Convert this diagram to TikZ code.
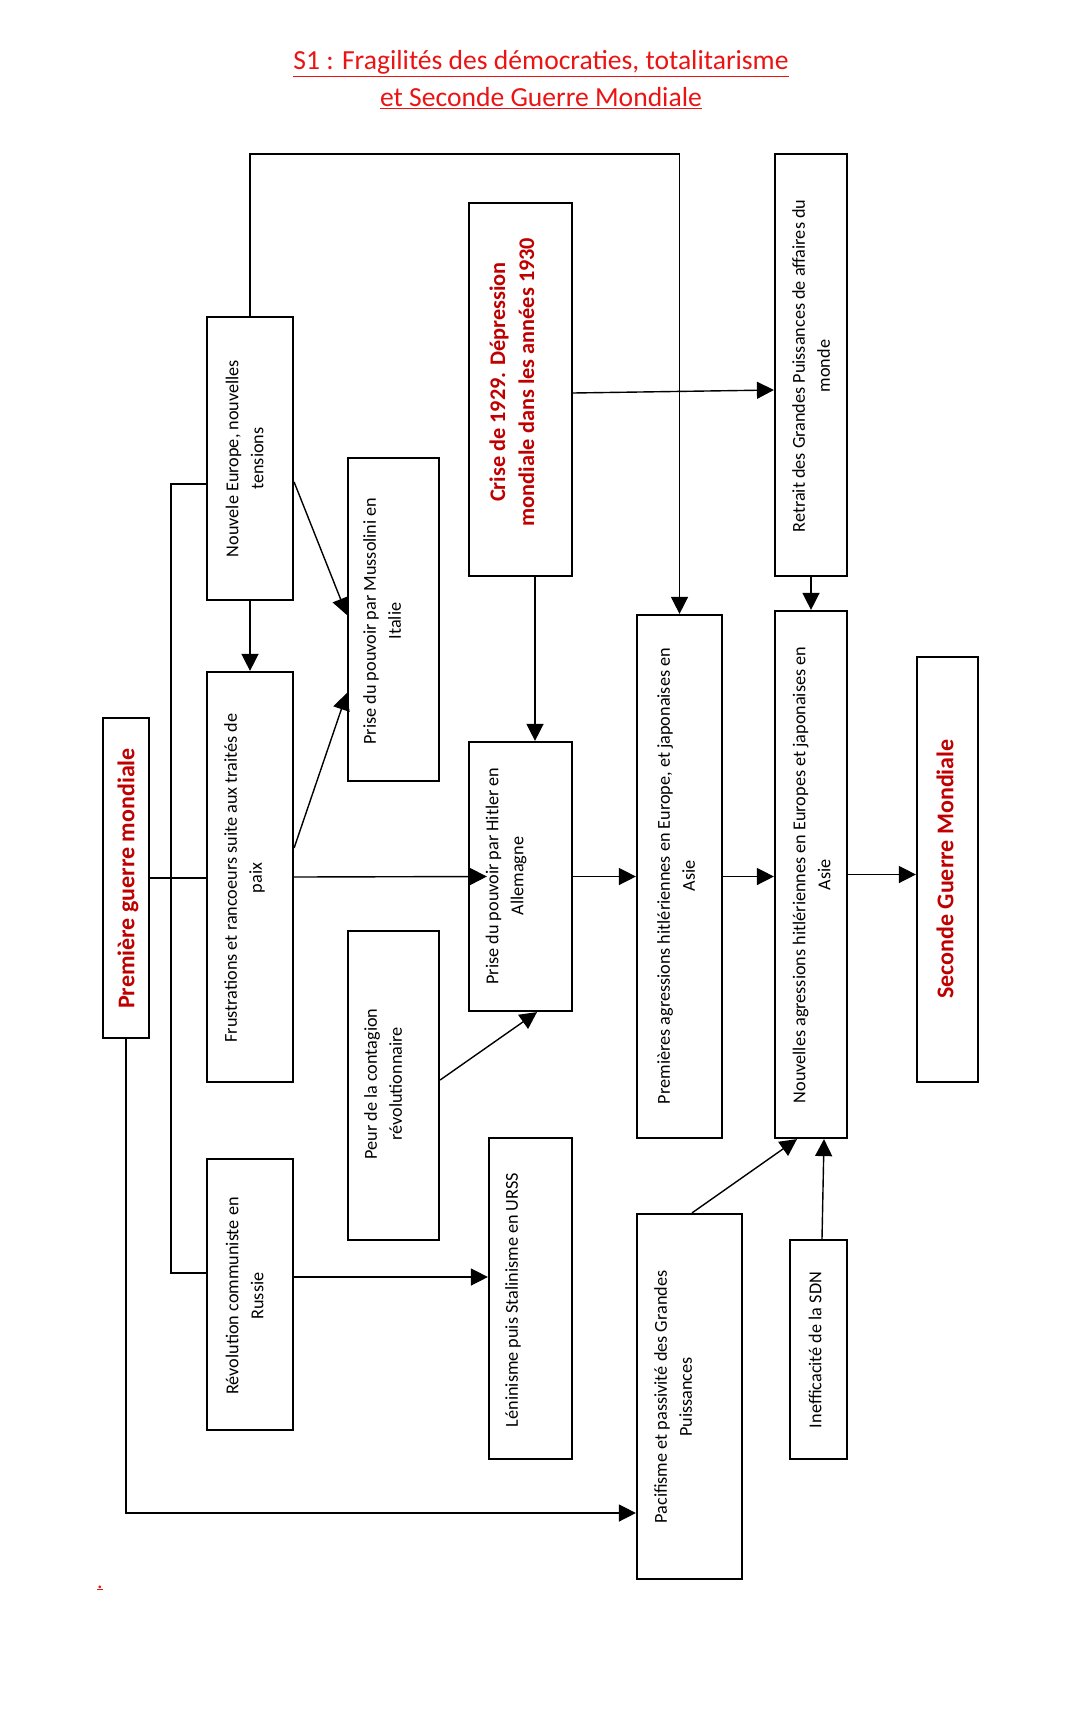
\documentclass[tikz,border=0pt]{standalone}
\usepackage{fontspec}
\setmainfont{Carlito}
\usetikzlibrary{arrows.meta,fit,calc}
\definecolor{titlered}{RGB}{235,20,20}
\definecolor{darkred}{RGB}{192,0,0}
\begin{document}
\begin{tikzpicture}[x=1pt,y=-1pt,
  box/.style={draw,line width=2.2pt,inner sep=0pt},
  txt/.style={rotate=90,align=center,inner sep=0pt,font=\fontsize{18.2}{25}\selectfont},
  bigtxt/.style={rotate=90,align=center,inner sep=0pt,text=darkred,font=\fontsize{24}{29}\selectfont\bfseries},
  titletxt/.style={anchor=base,text=titlered,font=\fontsize{27.6}{33}\selectfont},
  conn/.style={line width=1.4pt},
  arr/.style={conn,-{Triangle[length=17pt,width=17pt]}}]
\useasboundingbox[fill=white] (0,0) rectangle (1080,1726);

% title
\node[titletxt] (t1) at (541,70) {\underline{S1 : Fragilités des démocraties, totalitarisme}};
\node[titletxt] (t2) at (541,107) {\underline{et Seconde Guerre Mondiale}};

% boxes
\node[box,fit={(207,317) (293,600)}] (nouv) {};
\node[box,fit={(207,672) (293,1082)}] (frus) {};
\node[box,fit={(207,1159) (293,1430)}] (rev) {};
\node[box,fit={(103,718) (149,1038)}] (pgm) {};
\node[box,fit={(348,458) (439,781)}] (muss) {};
\node[box,fit={(348,931) (439,1240)}] (peur) {};
\node[box,fit={(469,203) (572,576)}] (crise) {};
\node[box,fit={(469,742) (572,1011)}] (hit) {};
\node[box,fit={(489,1138) (572,1459)}] (len) {};
\node[box,fit={(637,615) (722,1138)}] (prem) {};
\node[box,fit={(637,1214) (742,1579)}] (pacif) {};
\node[box,fit={(775,154) (847,576)}] (ret) {};
\node[box,fit={(775,611) (847,1138)}] (nouvb) {};
\node[box,fit={(790,1240) (847,1459)}] (ineff) {};
\node[box,fit={(917,657) (978,1082)}] (sec) {};

% texts
\node[txt] (nouvT) at (244.5,458.5) {Nouvele Europe, nouvelles\\tensions};
\node[txt] (frusT) at (244.5,878) {Frustrations et rancoeurs suite aux traités de\\paix};
\node[txt] (revT) at (244.5,1296) {Révolution communiste en\\Russie};
\node[bigtxt] (pgmT) at (128,878.5) {Première guerre mondiale};
\node[txt] (mussT) at (382,621) {Prise du pouvoir par Mussolini en\\Italie};
\node[txt] (peurT) at (383,1084) {Peur de la contagion\\révolutionnaire};
\node[bigtxt,font=\fontsize{22.3}{29}\selectfont\bfseries] (criseT) at (512,382) {Crise de 1929. Dépression\\mondiale dans les années 1930};
\node[txt] (hitT) at (506,876) {Prise du pouvoir par Hitler en\\Allemagne};
\node[txt] (lenT) at (513,1300) {Léninisme puis Stalinisme en URSS};
\node[txt] (premT) at (676,876) {Premières agressions hitlériennes en Europe, et japonaises en\\Asie};
\node[txt] (pacifT) at (673,1397) {Pacifisme et passivité des Grandes\\Puissances};
\node[txt] (retT) at (811,366) {Retrait des Grandes Puissances de affaires du\\monde};
\node[txt] (nouvbT) at (811.5,875) {Nouvelles agressions hitlériennes en Europes et japonaises en\\Asie};
\node[txt] (ineffT) at (815,1350) {Inefficacité de la SDN};
\node[bigtxt] (secT) at (945,869) {Seconde Guerre Mondiale};

\node[anchor=base,text=titlered,font=\fontsize{22}{24}\selectfont] (dot) at (100,1588) {\underline{.}};

% connectors
\coordinate (ytop) at (0,154);
\draw[arr] (nouv.north) |- (ytop -| prem.north) -- (prem.north);
\draw[arr] ([yshift=-23.5pt]nouv.east) -- ([yshift=4.5pt]muss.west);
\draw[arr] (nouv.south) -- (frus.north);
\draw[arr] ([yshift=29pt]frus.east) -- ([yshift=-73.5pt]muss.west);
\draw[conn] (pgm.east) -- (pgm.east -| frus.west);
\draw[arr] (frus.east) -- ([xshift=19pt]hit.west);
\coordinate (revin) at ([yshift=21.5pt]rev.west);
\draw[conn] ([yshift=-25.5pt]nouv.west) -- ++(-35,0) |- (revin);
\draw[arr] ([yshift=-3.5pt]crise.east) -- ([yshift=-25pt]ret.west);
\draw[arr] ([xshift=14.5pt]crise.south) -- ([xshift=14.5pt]hit.north);
\draw[arr] (ret.south) -- (nouvb.north);
\draw[arr] ([yshift=5.5pt]peur.east) -- ([xshift=16.5pt]hit.south);
\draw[arr] (hit.east) -- (hit.east -| prem.west);
\draw[arr] (prem.east) -- (prem.east -| nouvb.west);
\draw[arr] (nouvb.east) -- (nouvb.east -| sec.west);
\draw[arr] ([yshift=17.5pt]rev.east) -- ([yshift=17.5pt]rev.east -| len.west);
\coordinate (pain) at ([yshift=-116.5pt]pacif.west);
\draw[arr] (pgm.south) |- (pain);
\draw[arr] ([xshift=2.5pt]pacif.north) -- ([xshift=-14pt]nouvb.south);
\draw[arr] ([xshift=3.5pt]ineff.north) -- ([xshift=13pt]nouvb.south);
\end{tikzpicture}
\end{document}
